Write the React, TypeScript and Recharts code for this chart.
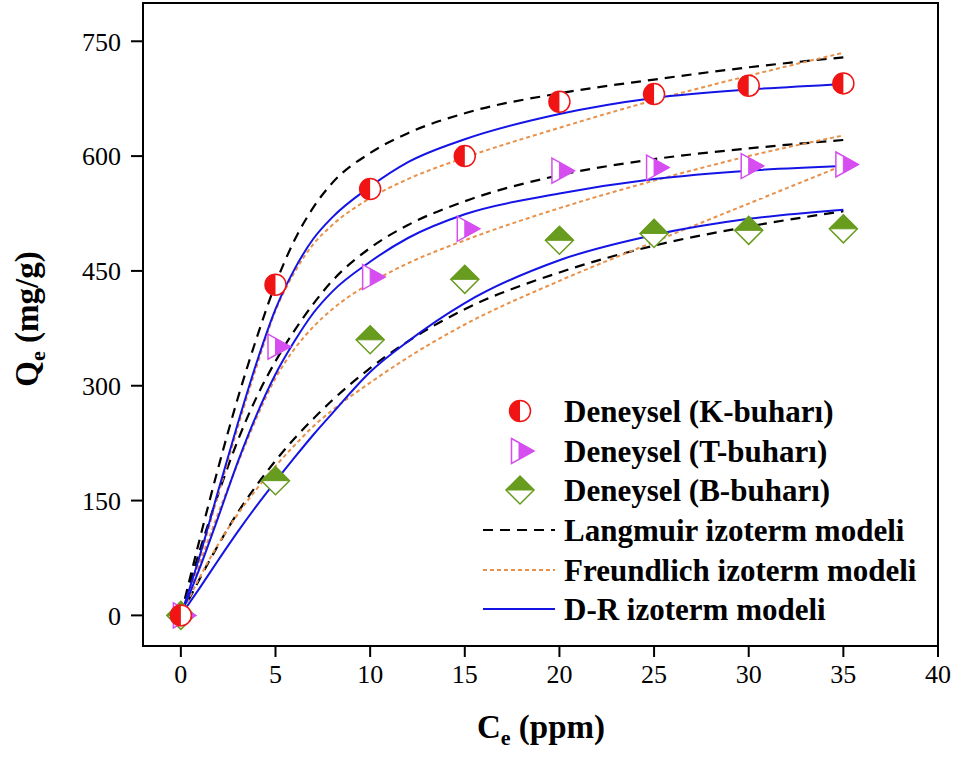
import { ComposedChart, Label, Legend, Line, ReferenceArea, Scatter, XAxis, YAxis } from "recharts";

// fitted curves, sampled off the figure
const modelX = [0, 1, 2, 3, 4, 5, 6, 7, 8, 10, 12, 15, 20, 25, 30, 35];
const kLangmuir = [0, 100, 195, 283, 362, 433, 490, 533, 565, 604, 630, 656, 682, 700, 716, 729];
const kFreundlich = [0, 75, 160, 245, 325, 398, 448, 485, 510, 545, 570, 598, 637, 673, 705, 735];
const kDR = [0, 78, 165, 250, 330, 400, 452, 492, 520, 560, 592, 622, 655, 676, 687, 694];
const tLangmuir = [0, 85, 160, 228, 285, 332, 372, 407, 437, 480, 510, 541, 575, 596, 610, 621];
const tFreundlich = [0, 68, 135, 198, 258, 310, 348, 377, 400, 434, 460, 490, 532, 568, 600, 627];
const tDR = [0, 62, 130, 200, 262, 315, 358, 395, 423, 462, 493, 524, 551, 570, 581, 587];
const bLangmuir = [0, 48, 93, 134, 170, 202, 231, 257, 281, 323, 358, 400, 448, 483, 508, 528];
const bFreundlich = [0, 50, 94, 132, 165, 195, 222, 247, 268, 304, 337, 380, 437, 488, 538, 588];
const bDR = [0, 36, 73, 109, 143, 175, 206, 236, 264, 318, 358, 408, 464, 497, 518, 530];

// experimental points
const expX = [0, 5, 10, 15, 20, 25, 30, 35];
const kExp = [0, 432, 557, 600, 671, 681, 692, 695];
const tExp = [0, 351, 442, 505, 581, 585, 587, 589];
const bExp = [0, 176, 360, 439, 490, 499, 503, 505];

const xTicks = [0, 5, 10, 15, 20, 25, 30, 35, 40];
const yTicks = [0, 150, 300, 450, 600, 750];

const RED = "#f01414";
const MAG = "#d64ef0";
const GREEN = "#689c1e";
const BLUE = "#1414e6";
const ORANGE = "#e8914a";
const FONT = '"Liberation Serif", "Times New Roman", serif';

const modelData = modelX.map((x, i) => ({
  x,
  kL: kLangmuir[i],
  kF: kFreundlich[i],
  kD: kDR[i],
  tL: tLangmuir[i],
  tF: tFreundlich[i],
  tD: tDR[i],
  bL: bLangmuir[i],
  bF: bFreundlich[i],
  bD: bDR[i],
}));

const toPoints = (ys: number[]) => expX.map((x, i) => ({ x, y: ys[i] }));

function CircleMark({ cx, cy }: { cx: number; cy: number }) {
  const r = 10.5;
  return (
    <g>
      <circle cx={cx} cy={cy} r={r} fill="#fff" />
      <path d={`M${cx},${cy - r} A${r},${r} 0 0,0 ${cx},${cy + r} Z`} fill={RED} />
      <circle cx={cx} cy={cy} r={r} fill="none" stroke={RED} strokeWidth={1.5} />
    </g>
  );
}

function TriMark({ cx, cy }: { cx: number; cy: number }) {
  const h = 12.5;
  const left = cx - 7.5;
  const tip = cx + 15;
  return (
    <g>
      <path d={`M${left},${cy - h} L${tip},${cy} L${left},${cy + h} Z`} fill="#fff" stroke={MAG} strokeWidth={1.5} />
      <path d={`M${cx},${cy - 8.3} L${tip},${cy} L${cx},${cy + 8.3} Z`} fill={MAG} stroke={MAG} strokeWidth={1} />
    </g>
  );
}

function DiamondMark({ cx, cy }: { cx: number; cy: number }) {
  const w = 14;
  return (
    <g>
      <path d={`M${cx - w},${cy} L${cx},${cy - w} L${cx + w},${cy} L${cx},${cy + w} Z`} fill="#fff" stroke={GREEN} strokeWidth={1.5} />
      <path d={`M${cx - w},${cy} L${cx},${cy - w} L${cx + w},${cy} Z`} fill={GREEN} stroke={GREEN} strokeWidth={1} />
    </g>
  );
}

function LegendBox() {
  const rows = [26, 66, 105, 145, 185, 224];
  const textStyle = { fontFamily: FONT, fontWeight: 700, fontSize: 31 };
  const labels = [
    "Deneysel (K-buharı)",
    "Deneysel (T-buharı)",
    "Deneysel (B-buharı)",
    "Langmuir izoterm modeli",
    "Freundlich izoterm modeli",
    "D-R izoterm modeli",
  ];
  return (
    <svg width={480} height={250} style={{ display: "block" }}>
      <CircleMark cx={50} cy={rows[0]} />
      <TriMark cx={49} cy={rows[1]} />
      <DiamondMark cx={50} cy={rows[2]} />
      <line x1={13} x2={85} y1={rows[3]} y2={rows[3]} stroke="#000" strokeWidth={2.2} strokeDasharray="10 7" />
      <line x1={13} x2={85} y1={rows[4]} y2={rows[4]} stroke={ORANGE} strokeWidth={2} strokeDasharray="4 3" />
      <line x1={13} x2={85} y1={rows[5]} y2={rows[5]} stroke={BLUE} strokeWidth={2} />
      {labels.map((t, i) => (
        <text key={t} x={94} y={rows[i]} dominantBaseline="central" style={textStyle}>
          {t}
        </text>
      ))}
    </svg>
  );
}

const XTitle = () => (
  <text x={541} y={738} textAnchor="middle" style={{ fontFamily: FONT, fontWeight: 700, fontSize: 33 }}>
    C<tspan dy={7} fontSize={22}>e</tspan>
    <tspan dy={-7}> (ppm)</tspan>
  </text>
);

const YTitle = () => (
  <text transform="translate(38,319) rotate(-90)" x={0} y={0} textAnchor="middle" style={{ fontFamily: FONT, fontWeight: 700, fontSize: 33 }}>
    Q<tspan dy={7} fontSize={22}>e</tspan>
    <tspan dy={-7}> (mg/g)</tspan>
  </text>
);

const tickStyle = { fontFamily: FONT, fontSize: 26, fill: "#000" };

export default function App() {
  return (
    <div style={{ position: "absolute", left: 0, top: 0, width: 959, height: 758, background: "#fff" }}>
      <ComposedChart width={959} height={758} data={modelData} margin={{ top: 3, right: 21, bottom: 52, left: 0 }}>
        <XAxis
          dataKey="x"
          type="number"
          domain={[-2, 40]}
          ticks={xTicks}
          allowDataOverflow
          height={60}
          tickSize={11}
          tickMargin={8}
          tick={tickStyle}
          axisLine={{ stroke: "#000", strokeWidth: 2 }}
          tickLine={{ stroke: "#000", strokeWidth: 2 }}
        >
          <Label content={XTitle} />
        </XAxis>
        <YAxis
          type="number"
          domain={[-40, 800]}
          ticks={yTicks}
          allowDataOverflow
          width={143}
          tickSize={12}
          tickMargin={10}
          tick={tickStyle}
          axisLine={{ stroke: "#000", strokeWidth: 2 }}
          tickLine={{ stroke: "#000", strokeWidth: 2 }}
        >
          <Label content={YTitle} />
        </YAxis>
        <ReferenceArea x1={-2} x2={40} y1={-40} y2={800} fill="none" stroke="#000" strokeWidth={2} />

        <Scatter data={toPoints(bExp)} dataKey="y" shape={(p: any) => <DiamondMark cx={p.cx} cy={p.cy} />} isAnimationActive={false} />
        <Scatter data={toPoints(tExp)} dataKey="y" shape={(p: any) => <TriMark cx={p.cx} cy={p.cy} />} isAnimationActive={false} />
        <Scatter data={toPoints(kExp)} dataKey="y" shape={(p: any) => <CircleMark cx={p.cx} cy={p.cy} />} isAnimationActive={false} />

        <Line type="monotone" dataKey="kL" stroke="#000" strokeWidth={2.2} strokeDasharray="10 7" dot={false} activeDot={false} isAnimationActive={false} />
        <Line type="monotone" dataKey="tL" stroke="#000" strokeWidth={2.2} strokeDasharray="10 7" dot={false} activeDot={false} isAnimationActive={false} />
        <Line type="monotone" dataKey="bL" stroke="#000" strokeWidth={2.2} strokeDasharray="10 7" dot={false} activeDot={false} isAnimationActive={false} />
        <Line type="monotone" dataKey="kF" stroke={ORANGE} strokeWidth={2} strokeDasharray="4 3" dot={false} activeDot={false} isAnimationActive={false} />
        <Line type="monotone" dataKey="tF" stroke={ORANGE} strokeWidth={2} strokeDasharray="4 3" dot={false} activeDot={false} isAnimationActive={false} />
        <Line type="monotone" dataKey="bF" stroke={ORANGE} strokeWidth={2} strokeDasharray="4 3" dot={false} activeDot={false} isAnimationActive={false} />
        <Line type="monotone" dataKey="kD" stroke={BLUE} strokeWidth={2} dot={false} activeDot={false} isAnimationActive={false} />
        <Line type="monotone" dataKey="tD" stroke={BLUE} strokeWidth={2} dot={false} activeDot={false} isAnimationActive={false} />
        <Line type="monotone" dataKey="bD" stroke={BLUE} strokeWidth={2} dot={false} activeDot={false} isAnimationActive={false} />

        <Legend
          layout="vertical"
          align="center"
          verticalAlign="middle"
          wrapperStyle={{ left: 470, top: 385, width: 480, height: 250 }}
          content={() => <LegendBox />}
        />
      </ComposedChart>
    </div>
  );
}
